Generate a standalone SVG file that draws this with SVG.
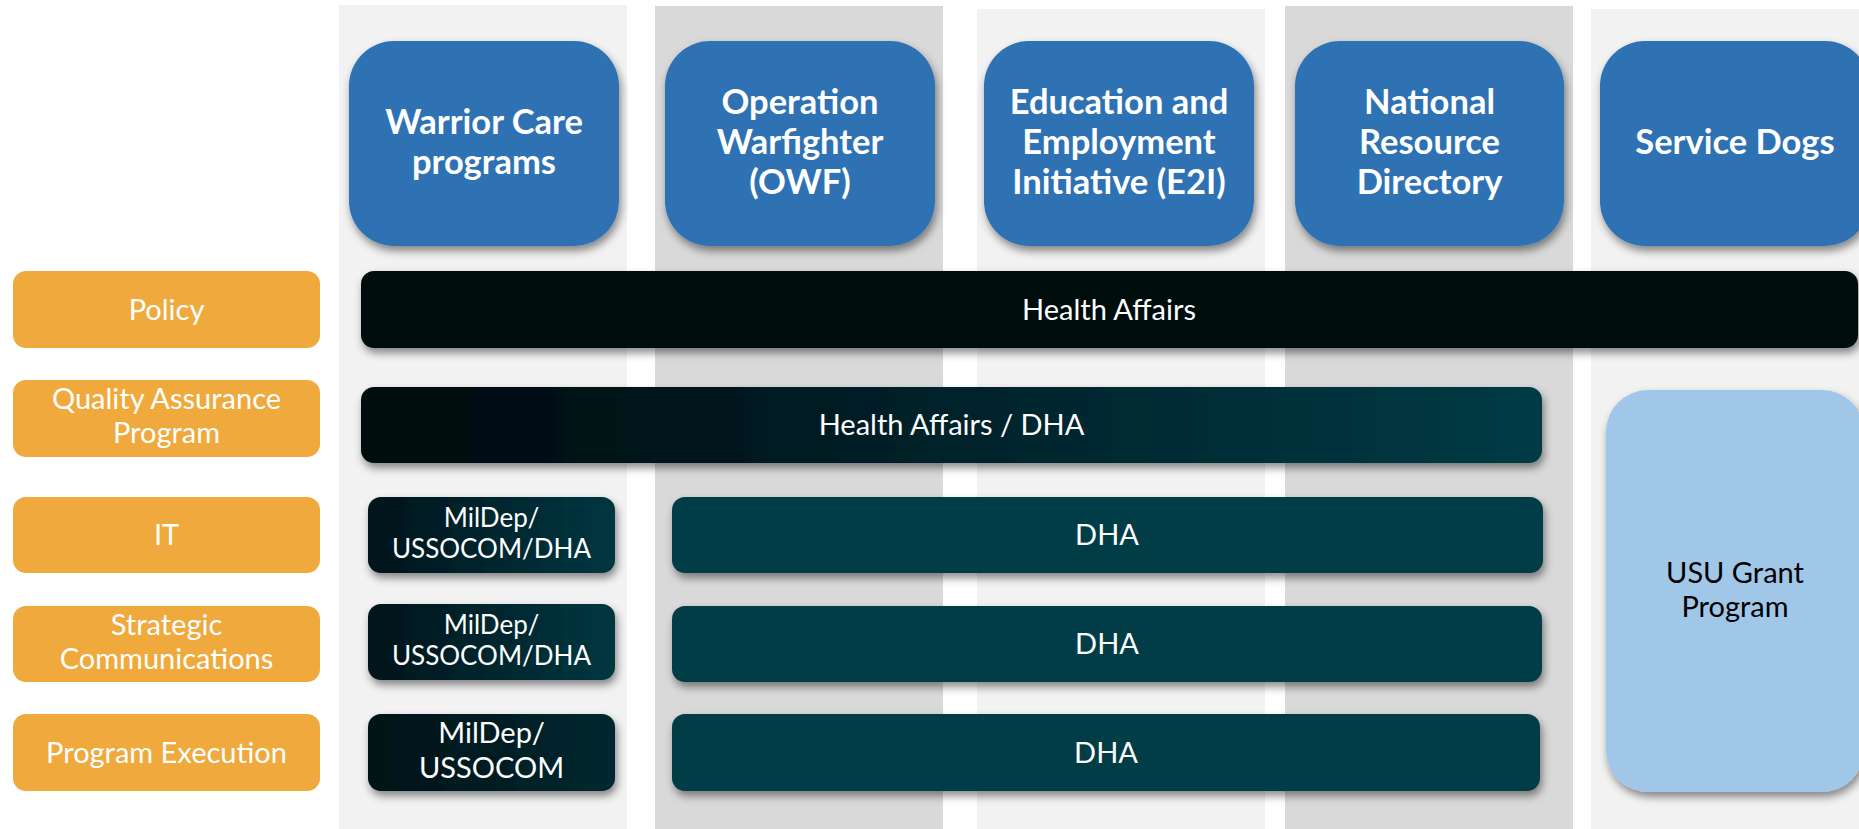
<svg xmlns="http://www.w3.org/2000/svg" width="1859" height="829" viewBox="0 0 1859 829">
<defs>
<style>
.colL{fill:#F2F2F2}
.colD{fill:#D9D9D9}
.hdr{fill:#2E72B4;filter:url(#sh)}
.hdrT{font-family:Lato,"Liberation Sans",sans-serif;font-weight:700;font-size:34.5px;fill:#FFFFFF;text-anchor:middle}
.org{fill:#F0A93C}
.orgT{font-family:Lato,"Liberation Sans",sans-serif;font-size:29px;fill:#FFFFFF;text-anchor:middle}
.bar{filter:url(#sh)}
.barT{font-family:Lato,"Liberation Sans",sans-serif;font-size:29px;fill:#FFFFFF;text-anchor:middle}
.smT{font-family:Lato,"Liberation Sans",sans-serif;font-size:26px;fill:#FFFFFF;text-anchor:middle}
.usuT{font-family:Lato,"Liberation Sans",sans-serif;font-size:29px;fill:#000000;text-anchor:middle}
</style>
<filter id="sh" x="-10%" y="-20%" width="120%" height="150%">
<feDropShadow dx="2" dy="5" stdDeviation="4" flood-color="#000000" flood-opacity="0.45"/>
</filter>
<linearGradient id="gHA" x1="0" y1="0" x2="1" y2="0">
<stop offset="0" stop-color="#000A0D"/>
<stop offset="1" stop-color="#020E11"/>
</linearGradient>
<linearGradient id="gQA" x1="0" y1="0" x2="1" y2="0">
<stop offset="0" stop-color="#00090C"/>
<stop offset="0.5" stop-color="#00222A"/>
<stop offset="1" stop-color="#013B46"/>
</linearGradient>
<linearGradient id="gMD" x1="0" y1="0" x2="1" y2="0">
<stop offset="0" stop-color="#00141A"/>
<stop offset="1" stop-color="#013742"/>
</linearGradient>
<linearGradient id="gMD3" x1="0" y1="0" x2="1" y2="0">
<stop offset="0" stop-color="#001317"/>
<stop offset="1" stop-color="#012830"/>
</linearGradient>
</defs>
<rect width="1859" height="829" fill="#FFFFFF"/>
<g id="columns">
<rect class="colL" x="339" y="5" width="288" height="824"/>
<rect class="colD" x="655" y="6" width="288" height="823"/>
<rect class="colL" x="977" y="9" width="288" height="820"/>
<rect class="colD" x="1285" y="6" width="288" height="823"/>
<rect class="colL" x="1591" y="9" width="300" height="820"/>
</g>
<g id="connectors"/>
<g id="hdr-warrior">
<rect class="hdr" x="349" y="41" width="270" height="205" rx="45"/>
<text class="hdrT" x="484" y="134">Warrior Care</text>
<text class="hdrT" x="484" y="174">programs</text>
</g>
<g id="hdr-owf">
<rect class="hdr" x="665" y="41" width="270" height="205" rx="45"/>
<text class="hdrT" x="800" y="114">Operation</text>
<text class="hdrT" x="800" y="154">Warfighter</text>
<text class="hdrT" x="800" y="194">(OWF)</text>
</g>
<g id="hdr-e2i">
<rect class="hdr" x="984" y="41" width="270" height="205" rx="45"/>
<text class="hdrT" x="1119" y="114">Education and</text>
<text class="hdrT" x="1119" y="154">Employment</text>
<text class="hdrT" x="1119" y="194">Initiative (E2I)</text>
</g>
<g id="hdr-nrd">
<rect class="hdr" x="1295" y="41" width="269" height="205" rx="45"/>
<text class="hdrT" x="1429.5" y="114">National</text>
<text class="hdrT" x="1429.5" y="154">Resource</text>
<text class="hdrT" x="1429.5" y="194">Directory</text>
</g>
<g id="hdr-dogs">
<rect class="hdr" x="1600" y="41" width="270" height="205" rx="45"/>
<text class="hdrT" x="1735" y="154">Service Dogs</text>
</g>
<g id="row-policy">
<rect class="org" x="13" y="271" width="307" height="77" rx="13"/>
<text class="orgT" x="166.5" y="320">Policy</text>
</g>
<g id="row-qa">
<rect class="org" x="13" y="380" width="307" height="77" rx="13"/>
<text class="orgT" x="166.5" y="409">Quality Assurance</text>
<text class="orgT" x="166.5" y="443">Program</text>
</g>
<g id="row-it">
<rect class="org" x="13" y="497" width="307" height="76" rx="13"/>
<text class="orgT" x="166.5" y="545">IT</text>
</g>
<g id="row-stratcom">
<rect class="org" x="13" y="606" width="307" height="76" rx="13"/>
<text class="orgT" x="166.5" y="635">Strategic</text>
<text class="orgT" x="166.5" y="669">Communications</text>
</g>
<g id="row-exec">
<rect class="org" x="13" y="714" width="307" height="77" rx="13"/>
<text class="orgT" x="166.5" y="763">Program Execution</text>
</g>
<g id="bar-health-affairs">
<rect class="bar" x="361" y="271" width="1497" height="77" rx="13" fill="url(#gHA)"/>
<text class="barT" x="1109" y="320">Health Affairs</text>
</g>
<g id="bar-ha-dha">
<rect class="bar" x="361" y="387" width="1181" height="76" rx="13" fill="url(#gQA)"/>
<text class="barT" x="951.5" y="435">Health Affairs / DHA</text>
</g>
<g id="mildep-it">
<rect class="bar" x="368" y="497" width="247" height="76" rx="13" fill="url(#gMD)"/>
<text class="smT" x="491.5" y="527">MilDep/</text>
<text class="smT" x="491.5" y="558">USSOCOM/DHA</text>
</g>
<g id="mildep-stratcom">
<rect class="bar" x="368" y="604" width="247" height="76" rx="13" fill="url(#gMD)"/>
<text class="smT" x="491.5" y="634">MilDep/</text>
<text class="smT" x="491.5" y="665">USSOCOM/DHA</text>
</g>
<g id="mildep-exec">
<rect class="bar" x="368" y="714" width="247" height="77" rx="13" fill="url(#gMD3)"/>
<text class="barT" x="491.5" y="743">MilDep/</text>
<text class="barT" x="491.5" y="778">USSOCOM</text>
</g>
<g id="dha-it">
<rect class="bar" x="672" y="497" width="871" height="76" rx="13" fill="#013C46"/>
<text class="barT" x="1107" y="545">DHA</text>
</g>
<g id="dha-stratcom">
<rect class="bar" x="672" y="606" width="870" height="76" rx="13" fill="#013C46"/>
<text class="barT" x="1107" y="654">DHA</text>
</g>
<g id="dha-exec">
<rect class="bar" x="672" y="714" width="868" height="77" rx="13" fill="#013C46"/>
<text class="barT" x="1106" y="763">DHA</text>
</g>
<g id="usu-grant">
<rect class="bar" x="1606" y="390" width="258" height="402" rx="42" fill="#A1C7E8"/>
<text class="usuT" x="1735" y="583">USU Grant</text>
<text class="usuT" x="1735" y="617">Program</text>
</g>
</svg>
